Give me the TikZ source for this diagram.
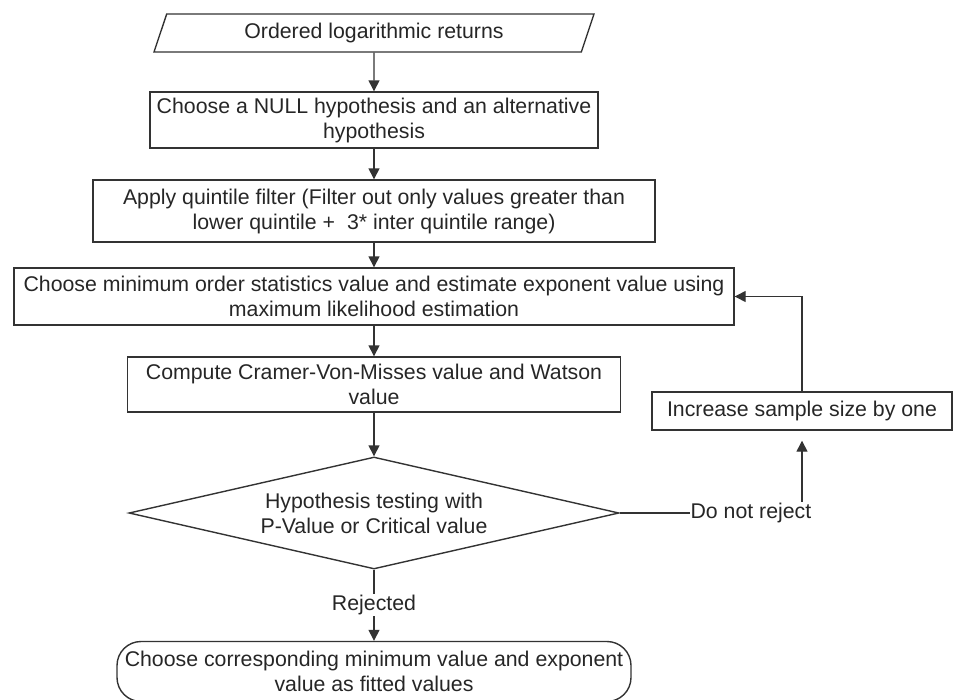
\documentclass[tikz,border=0pt]{standalone}
\usepackage{fontspec}
\setmainfont{Liberation Sans}
\usetikzlibrary{shapes.geometric,arrows.meta}
\begin{document}
\begin{tikzpicture}[x=1pt, y=-1pt,
    every node/.style={font=\fontsize{21.3}{25}\selectfont, text=black!85, align=center},
    box/.style={draw=black!80, line width=1.4pt, inner sep=2pt},
    arr/.style={draw=black!80, line width=1.4pt, -{Triangle[width=11pt,length=11pt]}},
    lbl/.style={fill=white, inner sep=1pt}]
    \useasboundingbox (0,0) rectangle (955,699);
    \node[box, trapezium, trapezium left angle=62, trapezium right angle=118, trapezium stretches body,
        minimum width=440pt, minimum height=38pt] (in) at (374,33) {Ordered logarithmic returns};
    \node[box, minimum width=448pt, minimum height=56pt] (null) at (374,120)
        {Choose a NULL hypothesis and an alternative\\hypothesis};
    \node[box, minimum width=562pt, minimum height=62pt] (filter) at (374,211)
        {Apply quintile filter (Filter out only values greater than\\lower quintile +\ \ 3* inter quintile range)};
    \node[box, minimum width=720pt, minimum height=57pt] (mle) at (374,296.5)
        {Choose minimum order statistics value and estimate exponent value using\\maximum likelihood estimation};
    \node[box, minimum width=493pt, minimum height=55pt] (cvm) at (374,384.5)
        {Compute Cramer-Von-Misses value and Watson\\value};
    \node[box, diamond, aspect=4.37, inner sep=0pt, minimum width=490pt, minimum height=112pt] (test) at (374,513)
        {Hypothesis testing with\\P-Value or Critical value};
    \node[box, minimum width=300pt, minimum height=38pt] (incr) at (802,411) {Increase sample size by one};
    \node[box, rounded corners=24pt, minimum width=514pt, minimum height=60pt] (fit) at (374,671.5)
        {Choose corresponding minimum value and exponent\\value as fitted values};
    \foreach \a/\b in {in/null, null/filter, filter/mle, mle/cvm, cvm/test}
        \draw[arr] (\a) -- (\b);
    \draw[arr] (test) -- (fit) node[lbl, midway] {Rejected};
    \draw[arr, shorten >=10pt] (test.east) -| (incr.south) node[lbl, pos=0.36] {Do not reject};
    \draw[arr] (incr.north) |- (mle.east);
\end{tikzpicture}
\end{document}
